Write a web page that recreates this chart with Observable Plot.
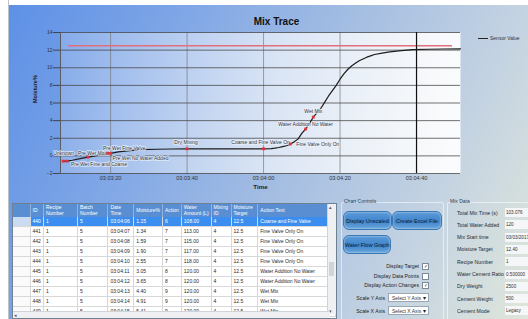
<!DOCTYPE html>
<html><head><meta charset="utf-8">
<script src="https://cdn.jsdelivr.net/npm/d3@7"></script>
<script src="https://cdn.jsdelivr.net/npm/@observablehq/plot@0.6"></script>
<style>
html,body{margin:0;padding:0;}
body{width:528px;height:319px;overflow:hidden;font-family:"Liberation Sans",Arial,sans-serif;}
#app{position:relative;width:528px;height:319px;overflow:hidden;
 background:linear-gradient(115deg,#5b8fe6 0%,#82a8e6 30%,#a6bfe2 55%,#c4d3e2 78%,#dfe6da 100%);}
#edgeTop{position:absolute;left:0;top:0;width:528px;height:5px;background:#fff;}
#edgeLeft{position:absolute;left:0;top:0;width:8px;height:319px;background:#fff;border-right:1px solid #b9c3cc;}
#chart{position:absolute;left:0;top:0;}
#legend{position:absolute;left:478px;top:35px;font-size:5px;color:#333;white-space:nowrap;}
#legend span.sw{display:inline-block;width:10px;height:1.5px;background:#222;vertical-align:middle;margin-right:2px;}
#grid{position:absolute;left:12px;top:203px;width:325px;height:116px;background:#fff;border:1px solid #6f8090;box-sizing:border-box;overflow:hidden;}
#grid table{border-collapse:collapse;table-layout:fixed;font-size:5px;}
#grid th{background:#5a8ed2;color:#fff;font-weight:normal;text-align:left;height:13px;padding:0 2px;border-right:1px solid #8db2e0;line-height:5.5px;vertical-align:middle;white-space:pre;overflow:hidden;}
#grid td{height:9px;padding:0 2px;border-right:1px solid #d8d8d8;border-bottom:1px solid #d8d8d8;white-space:nowrap;overflow:hidden;color:#2a2a2a;line-height:9px;}
#grid tr.sel td{background:#3b8ef0;color:#fff;}
#grid tr.sel td.rh{background:#c9dcf2;}
#grid td.rh{background:#fafafa;}
#vscroll{position:absolute;right:0;top:0;width:8px;height:110px;background:#eef0f2;border-left:1px solid #d0d4d8;}
#vscroll .thumb{position:absolute;left:1px;top:58px;width:5px;height:14px;background:#cfd4da;}
#vscroll .arr{position:absolute;left:1px;font-size:5px;color:#555;}
#hscroll{position:absolute;left:0;bottom:0;width:317px;height:6px;background:#eef0f2;border-top:1px solid #d0d4d8;font-size:5px;color:#555;line-height:6px;}
.grp{position:absolute;border:1px solid rgba(255,255,255,0.55);border-radius:2px;}
.grplab{position:absolute;font-size:5px;color:#2b3a4a;padding:0 1px;}
.btn{position:absolute;height:17px;border-radius:6px;border:1px solid #3a78b4;
 background:linear-gradient(#5c9ad8,#3f84cc 55%,#6aa6dc);color:#0b1d33;font-size:5.5px;
 display:flex;align-items:center;justify-content:center;box-shadow:0 0 2px rgba(255,255,255,0.8) inset;}
.chk{position:absolute;font-size:5.2px;color:#222;text-align:right;white-space:nowrap;}
.box{position:absolute;width:5px;height:5px;background:#fff;border:1px solid #7a8a9a;font-size:5px;line-height:5px;text-align:center;color:#333;}
.lab{position:absolute;font-size:5.2px;color:#1e2a36;white-space:nowrap;}
.dd{position:absolute;width:41px;height:9px;background:#fff;border:1px solid #9aa8b6;font-size:5px;line-height:9px;padding-left:3px;box-sizing:border-box;color:#333;}
.dd::after{content:"▾";position:absolute;right:2px;top:0;font-size:6px;color:#222;}
.val{position:absolute;left:505px;width:23px;height:9px;background:#f4f6f8;font-size:4.6px;line-height:9px;padding-left:1px;box-sizing:border-box;color:#333;white-space:nowrap;overflow:hidden;}
</style></head>
<body><div id="app">
<div id="edgeTop"></div><div id="edgeLeft"></div>
<div id="chart"></div>
<div id="legend"><span class="sw"></span>Sensor Value</div>
<div id="grid"></div>
<div id="controls"></div>
</div>
<script>
// ---------------- chart data ----------------
const chartTitle = "Mix Trace";
const xLabel = "Time";
const yLabel = "Moisture%";
const seriesName = "Sensor Value";
// seconds after 03:03:00 and sensor moisture %
const sensorSeconds = [7.6, 8.6, 10, 12, 14.1, 16, 18, 19.3, 20, 22, 25, 28, 32, 36, 40, 45, 50, 55, 60, 62, 63, 64, 65, 66, 67, 68, 69, 70, 71, 72, 73, 74, 75, 76, 77, 78, 79, 80, 81, 82, 83, 84, 85, 86, 87, 88, 89, 91, 93, 96, 99, 103, 107, 111.5];
const sensorValues  = [-0.6, -0.6, -0.5, -0.32, -0.15, 0.0, 0.18, 0.3, 0.28, 0.45, 0.6, 0.7, 0.75, 0.78, 0.8, 0.8, 0.8, 0.8, 0.8, 0.82, 0.88, 0.95, 1.05, 1.15, 1.34, 1.59, 1.90, 2.55, 3.05, 3.65, 4.40, 4.91, 5.41, 6.1, 6.8, 7.4, 8.0, 8.7, 9.3, 9.8, 10.2, 10.5, 10.8, 11.0, 11.2, 11.35, 11.5, 11.65, 11.8, 11.95, 12.05, 12.1, 12.13, 12.15];
// action changes
const eventSeconds = [7.6, 8.6, 14.1, 19.3, 20.0, 40, 60, 67, 71, 73];
const eventValues  = [-0.6, -0.6, -0.15, 0.3, 0.28, 0.8, 0.8, 1.34, 3.05, 4.40];
const eventLabels  = ["Unknown", "Pre Wet Fine and Coarse", "Pre Wet Mode", "Pre Wet Fine Valve", "Pre Wet No Water Added", "Dry Mixing", "Coarse and Fine Valve On", "Fine Valve Only On", "Water Addition No Water", "Wet Mix"];
// moisture target
const targetValue = 12.5;
const targetStartSecond = 9;
const targetEndSecond = 109.4;
const cursorSecond = 100;
const xDomainSeconds = [6.9, 111.5];
const xTickSeconds = [20, 40, 60, 80, 100];
const yTicks = [-2, 0, 2, 4, 6, 8, 10, 12, 14];
const yDomain = [-2, 14];

// ---------------- table data ----------------
const tableHeaders = ["", "ID", "Recipe\nNumber", "Batch\nNumber", "Date\nTime", "Moisture%", "Action", "Water\nAmount (L)", "Mixing\nID", "Moisture\nTarget", "Action Text"];
const tableIds = [440, 441, 442, 443, 444, 445, 446, 447, 448, 449];
const tableRecipe = [1, 1, 1, 1, 1, 1, 1, 1, 1, 1];
const tableBatch = [5, 5, 5, 5, 5, 5, 5, 5, 5, 5];
const tableTimes = ["03:04:06", "03:04:07", "03:04:08", "03:04:09", "03:04:10", "03:04:11", "03:04:12", "03:04:13", "03:04:14", "03:04:15"];
const tableMoisture = ["1.15", "1.34", "1.59", "1.90", "2.55", "3.05", "3.65", "4.40", "4.91", "5.41"];
const tableAction = [6, 7, 7, 7, 7, 8, 8, 9, 9, 9];
const tableWater = ["108.00", "113.00", "115.00", "117.00", "118.00", "120.00", "120.00", "120.00", "120.00", "120.00"];
const tableMixingId = [4, 4, 4, 4, 4, 4, 4, 4, 4, 4];
const tableTarget = ["12.5", "12.5", "12.5", "12.5", "12.5", "12.5", "12.5", "12.5", "12.5", "12.5"];
const tableActionText = ["Coarse and Fine Valve", "Fine Valve Only On", "Fine Valve Only On", "Fine Valve Only On", "Fine Valve Only On", "Water Addition No Water", "Water Addition No Water", "Wet Mix", "Wet Mix", "Wet Mix"];

// ---------------- controls data ----------------
const chartControlsTitle = "Chart Controls";
const buttonLabels = ["Display Unscaled", "Create Excel File", "Water Flow Graph"];
const checkboxLabels = ["Display Target", "Display Data Points", "Display Action Changes"];
const checkboxStates = [true, false, true];
const scaleLabels = ["Scale Y Axis", "Scale X Axis"];
const scaleSelections = ["Select Y Axis", "Select X Axis"];
const mixDataTitle = "Mix Data";
const mixDataLabels = ["Total Mix Time (s)", "Total Water Added", "Mix Start time", "Moisture Target", "Recipe Number", "Water Cement Ratio", "Dry Weight", "Cement Weight", "Cement Mode"];
const mixDataValues = ["103.076", "120", "03/03/2017", "12.40", "1", "0.500000", "2500", "500", "Legacy"];

// ---------------- build chart ----------------
const base = new Date(2017, 2, 3, 3, 3, 0);
const T = s => new Date(base.getTime() + s * 1000);
const fmt = d3.timeFormat("%H:%M:%S");
const sensor = sensorSeconds.map((s, i) => ({t: T(s), v: sensorValues[i]}));
const events = eventSeconds.map((s, i) => ({t: T(s), v: eventValues[i], label: eventLabels[i]}));
const xTicks = xTickSeconds.map(T);

// label placement (style only)
const labelLayout = [
  {dx: -10, dy: -8, a: "start"},
  {dx: 4, dy: 3, a: "start"},
  {dx: 6, dy: -4, a: "middle"},
  {dx: -5, dy: -5, a: "start"},
  {dx: 2, dy: 5, a: "start"},
  {dx: -1, dy: -6, a: "middle"},
  {dx: -3, dy: -6, a: "middle"},
  {dx: 6, dy: 0, a: "start"},
  {dx: 0, dy: -5, a: "middle"},
  {dx: 0, dy: -6, a: "middle"}
];

function defsMark() {
  const ns = "http://www.w3.org/2000/svg";
  const defs = document.createElementNS(ns, "defs");
  defs.innerHTML = '<linearGradient id="plotFill" x1="0" x2="1" y1="0" y2="0">' +
    '<stop offset="0" stop-color="#ffffff" stop-opacity="0.18"/>' +
    '<stop offset="0.5" stop-color="#ffffff" stop-opacity="0.6"/>' +
    '<stop offset="1" stop-color="#ffffff" stop-opacity="0.93"/></linearGradient>';
  return defs;
}

const labelMarks = events.map((e, i) => Plot.text([e], {
  x: "t", y: "v", text: "label",
  dx: labelLayout[i].dx, dy: labelLayout[i].dy, textAnchor: labelLayout[i].a,
  fontSize: 5, fill: "#2c3440", stroke: "#eef3fb", strokeWidth: 1.6, strokeOpacity: 0.8
}));

const chart = Plot.plot({
  width: 528, height: 198,
  marginLeft: 60, marginRight: 68, marginTop: 32, marginBottom: 25,
  style: {background: "transparent", fontFamily: "Liberation Sans, Arial, sans-serif", overflow: "visible"},
  x: {type: "time", domain: xDomainSeconds.map(T)},
  y: {domain: yDomain},
  marks: [
    defsMark,
    Plot.frame({fill: "url(#plotFill)", stroke: null}),
    Plot.gridX(xTicks, {stroke: "#777", strokeOpacity: 0.85, strokeWidth: 0.8}),
    Plot.gridY(yTicks, {stroke: "#444", strokeOpacity: 0.85, strokeWidth: 0.9}),
    Plot.axisY(yTicks, {tickSize: 7, tickPadding: 1, fontSize: 5, stroke: "#444", fill: "#333", label: null}),
    Plot.axisX(xTicks, {tickSize: 0, tickPadding: 3, fontSize: 5.6, fill: "#333", tickFormat: fmt, label: null}),
    Plot.ruleX([T(xDomainSeconds[0])], {stroke: "#555", strokeWidth: 0.9}),
    Plot.ruleY([targetValue], {x1: T(targetStartSecond), x2: T(targetEndSecond), stroke: "#e2707c", strokeWidth: 1.6}),
    Plot.ruleX([T(cursorSecond)], {stroke: "#111", strokeWidth: 1.2}),
    Plot.line(sensor, {x: "t", y: "v", stroke: "#1c1c1c", strokeWidth: 1.2}),
    ...labelMarks,
    Plot.dot(events, {x: "t", y: "v", symbol: "square", r: 1.6, fill: "#e0323c", stroke: null}),
    Plot.text([chartTitle], {frameAnchor: "top", dx: 16, dy: -15, fontSize: 10, fontWeight: "bold", fill: "#111"}),
    Plot.text([xLabel], {frameAnchor: "bottom", dy: 15, fontSize: 6.2, fontWeight: "bold", fill: "#222"}),
    Plot.text([yLabel], {frameAnchor: "left", dx: -25, rotate: -90, fontSize: 5.5, fontWeight: "bold", fill: "#222"})
  ]
});
document.getElementById("chart").appendChild(chart);
document.getElementById("legend").lastChild.textContent = seriesName;

// ---------------- build table ----------------
const colWidths = [18, 12, 35, 31, 26, 28, 17, 24, 20, 27, 79];
let html = '<table><colgroup>' + colWidths.map(w => `<col style="width:${w}px">`).join("") + '</colgroup><tr>' +
  tableHeaders.map(h => `<th>${h}</th>`).join("") + '</tr>';
tableIds.forEach((id, i) => {
  const cells = [id, tableRecipe[i], tableBatch[i], tableTimes[i], tableMoisture[i], tableAction[i], tableWater[i], tableMixingId[i], tableTarget[i], tableActionText[i]];
  html += `<tr class="${i === 0 ? "sel" : ""}"><td class="rh"></td>` + cells.map(c => `<td>${c}</td>`).join("") + '</tr>';
});
html += '</table><div id="vscroll"><div class="arr" style="top:0">▴</div><div class="thumb"></div><div class="arr" style="bottom:0">▾</div></div><div id="hscroll">&nbsp;◂</div>';
document.getElementById("grid").innerHTML = html;

// ---------------- build controls ----------------
const ctl = document.getElementById("controls");
let c = '';
c += `<div class="grp" style="left:341px;top:202px;width:101px;height:118px"></div>`;
c += `<div class="grplab" style="left:343px;top:198px">${chartControlsTitle}</div>`;
const btnPos = [[343, 211, 47], [392, 211, 48], [343, 235, 46]];
buttonLabels.forEach((b, i) => { c += `<div class="btn" style="left:${btnPos[i][0]}px;top:${btnPos[i][1]}px;width:${btnPos[i][2]}px">${b}</div>`; });
checkboxLabels.forEach((l, i) => {
  const y = 263 + i * 9.5;
  c += `<div class="chk" style="right:${528 - 419}px;top:${y}px">${l}</div>`;
  c += `<div class="box" style="left:422px;top:${y}px">${checkboxStates[i] ? "✓" : ""}</div>`;
});
scaleLabels.forEach((l, i) => {
  const y = 293 + i * 13;
  c += `<div class="chk" style="right:${528 - 385}px;top:${y + 2}px">${l}</div>`;
  c += `<div class="dd" style="left:388px;top:${y}px">${scaleSelections[i]}</div>`;
});
c += `<div class="grp" style="left:447px;top:202px;width:90px;height:118px"></div>`;
c += `<div class="grplab" style="left:449px;top:198px">${mixDataTitle}</div>`;
mixDataLabels.forEach((l, i) => {
  const y = 208 + i * 12.3;
  c += `<div class="lab" style="left:457px;top:${y + 1.5}px">${l}</div>`;
  c += `<div class="val" style="top:${y}px">${mixDataValues[i]}</div>`;
});
ctl.innerHTML = c;
</script>
</body></html>
